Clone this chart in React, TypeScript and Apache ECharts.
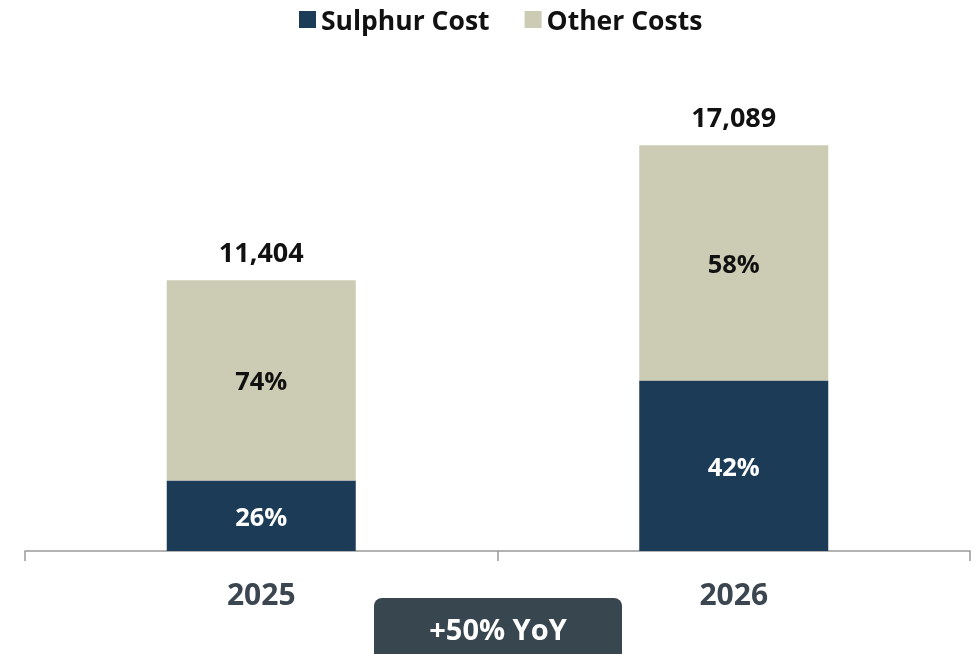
import React, { useEffect, useRef } from "react";
import * as echarts from "echarts";

const categories = ["2025", "2026"];
const sulphurCost = [2965, 7177];
const otherCosts = [8439, 9912];
const totals = [11404, 17089];
const badgeText = "+50% YoY";

const FONT = "'Open Sans', 'Noto Sans', sans-serif";

export default function App() {
  const ref = useRef<HTMLDivElement>(null);
  useEffect(() => {
    if (!ref.current) return;
    const chart = echarts.init(ref.current, null, { renderer: "svg" });
    const pct = (v: number, i: number) => Math.round((v / totals[i]) * 100) + "%";
    chart.setOption({
      animation: false,
      textStyle: { fontFamily: FONT },
      legend: {
        top: 1,
        left: 294,
        itemWidth: 17,
        itemHeight: 17,
        itemGap: 35,
        icon: "rect",
        data: ["Sulphur Cost", "Other Costs"],
        textStyle: { fontFamily: FONT, fontSize: 26.5, fontWeight: "bold", color: "#111" },
      },
      grid: { left: 25, right: 5, top: 76, bottom: 103 },
      xAxis: {
        type: "category",
        data: categories,
        axisLine: { show: true, lineStyle: { color: "#999", width: 1.5 } },
        axisTick: { show: true, length: 10, lineStyle: { color: "#999", width: 1.5 } },
        axisLabel: {
          margin: 27,
          fontFamily: FONT,
          fontSize: 30,
          fontWeight: "bold",
          color: "#3b4650",
        },
      },
      yAxis: { type: "value", min: 0, max: 20000, show: false, splitLine: { show: false } },
      series: [
        {
          name: "Sulphur Cost",
          type: "bar",
          stack: "s",
          barWidth: "40%",
          data: sulphurCost,
          itemStyle: { color: "#1c3b56" },
          label: {
            show: true,
            position: "inside",
            formatter: (p: any) => pct(p.value, p.dataIndex),
            fontFamily: FONT,
            fontSize: 25.5,
            fontWeight: "bold",
            color: "#fff",
          },
        },
        {
          name: "Other Costs",
          type: "bar",
          stack: "s",
          barWidth: "40%",
          data: otherCosts,
          itemStyle: { color: "#cccbb4" },
          label: {
            show: true,
            position: "inside",
            formatter: (p: any) => pct(p.value, p.dataIndex),
            fontFamily: FONT,
            fontSize: 25.5,
            fontWeight: "bold",
            color: "#111",
          },
        },
        {
          name: "Total",
          type: "bar",
          stack: "s",
          barWidth: "40%",
          data: totals.map(() => 0),
          itemStyle: { color: "transparent" },
          label: {
            show: true,
            position: "top",
            distance: 15,
            formatter: (p: any) => totals[p.dataIndex].toLocaleString("en-US"),
            fontFamily: FONT,
            fontSize: 27,
            fontWeight: "bold",
            color: "#111",
          },
        },
      ],
      graphic: [
        {
          type: "group",
          left: 374,
          top: 598,
          children: [
            {
              type: "rect",
              shape: { x: 0, y: 0, width: 248, height: 70, r: 8 },
              style: { fill: "#38474f" },
            },
            {
              type: "text",
              x: 124,
              y: 30,
              style: {
                text: badgeText,
                fill: "#fff",
                font: `bold 29px ${FONT}`,
                align: "center",
                verticalAlign: "middle",
              },
            },
          ],
        },
      ],
    });
    return () => chart.dispose();
  }, []);
  return (
    <div
      ref={ref}
      style={{ position: "fixed", left: 0, top: 0, width: 975, height: 654 }}
    />
  );
}
